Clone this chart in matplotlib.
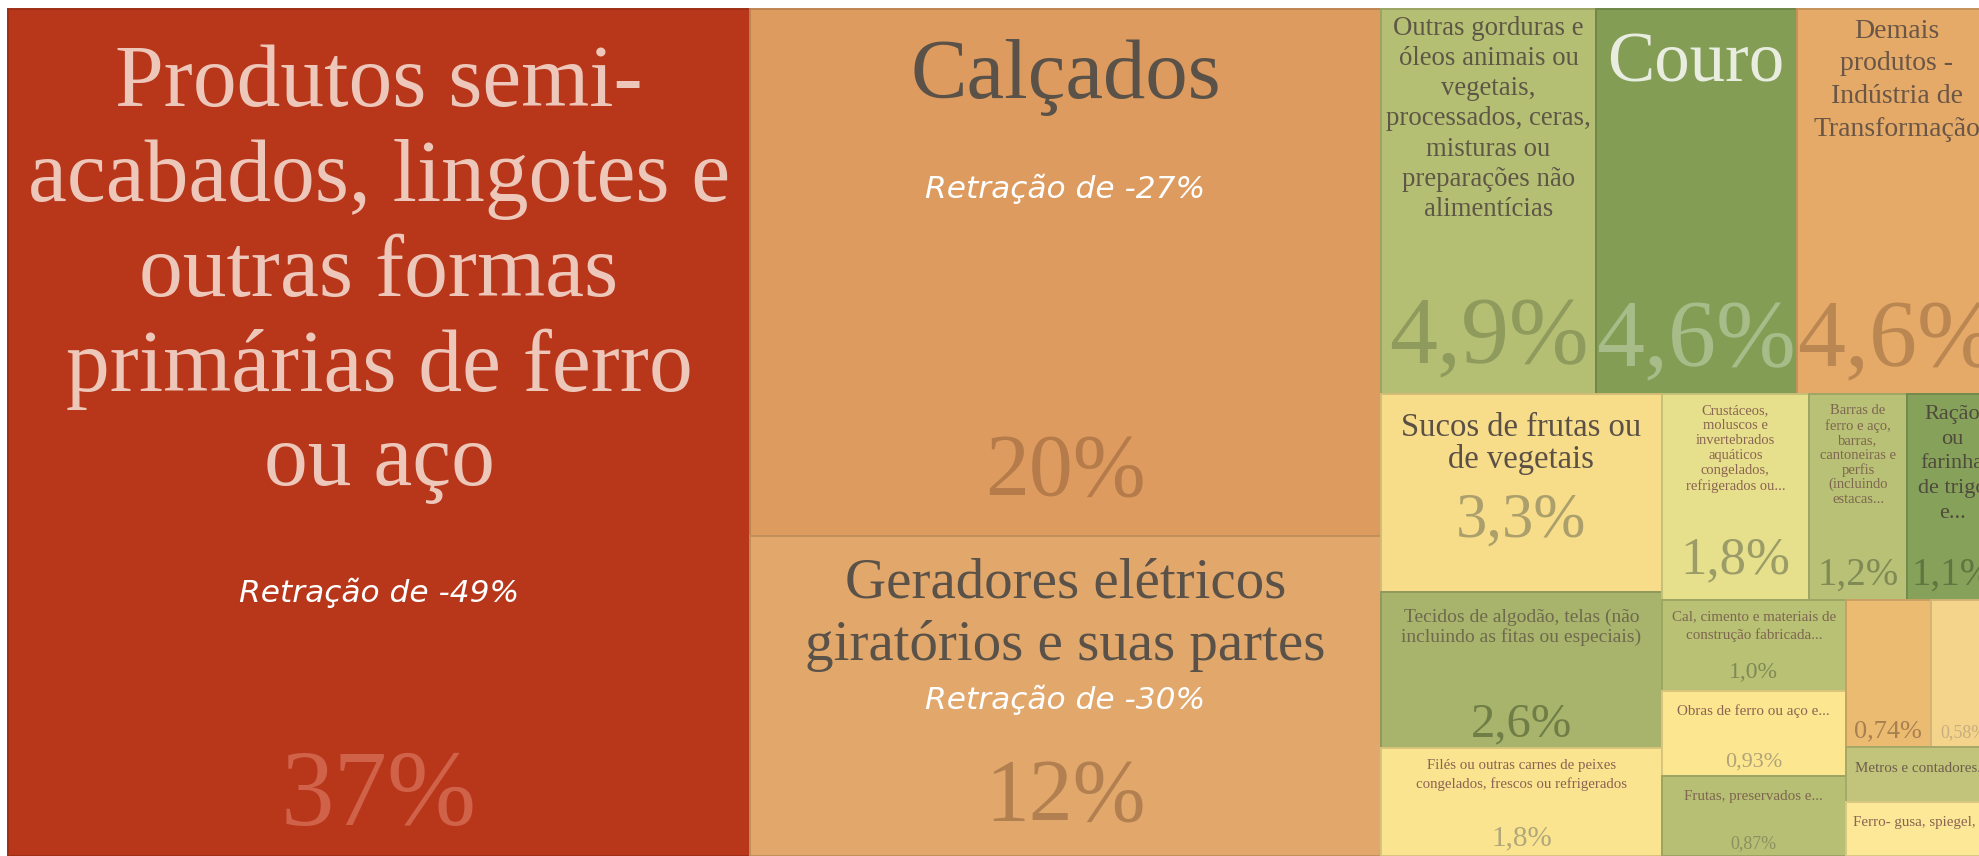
"""Treemap: participação dos produtos exportados (com retração)."""

import matplotlib
matplotlib.use("Agg")
import matplotlib.pyplot as plt
from matplotlib.patches import Rectangle
from matplotlib.colors import to_rgb

# --- data -------------------------------------------------------------------
products = [
    "Produtos semi-\nacabados, lingotes e\noutras formas\nprimárias de ferro\nou aço",
    "Calçados",
    "Geradores elétricos\ngiratórios e suas partes",
    "Outras gorduras e\nóleos animais ou\nvegetais,\nprocessados, ceras,\nmisturas ou\npreparações não\nalimentícias",
    "Couro",
    "Demais\nprodutos -\nIndústria de\nTransformação",
    "Sucos de frutas ou\nde vegetais",
    "Tecidos de algodão, telas (não\nincluindo as fitas ou especiais)",
    "Filés ou outras carnes de peixes\ncongelados, frescos ou refrigerados",
    "Crustáceos,\nmoluscos e\ninvertebrados\naquáticos\ncongelados,\nrefrigerados ou...",
    "Barras de\nferro e aço,\nbarras,\ncantoneiras e\nperfis\n(incluindo\nestacas...",
    "Ração\nou\nfarinha\nde trigo\ne...",
    "Cal, cimento e materiais de\nconstrução fabricada...",
    "Obras de ferro ou aço e...",
    "Frutas, preservados e...",
    "",
    "",
    "Metros e contadores...",
    "Ferro- gusa, spiegel, ...",
]
shares = [37.4, 19.8, 12.0, 4.93, 4.61, 4.6, 3.3, 2.6, 1.8, 1.8, 1.2, 1.1,
          1.0, 0.93, 0.87, 0.74, 0.58, 0.50, 0.48]
share_labels = ["37%", "20%", "12%", "4,9%", "4,6%", "4,6%", "3,3%", "2,6%",
                "1,8%", "1,8%", "1,2%", "1,1%", "1,0%", "0,93%", "0,87%",
                "0,74%", "0,58%", "", ""]
retracao = {0: "Retração de -49%", 1: "Retração de -27%", 2: "Retração de -30%"}

# --- style ------------------------------------------------------------------
cell_colors = ["#B8361A", "#DD9B5F", "#E2A76B", "#B5BF73", "#839D55", "#E5AA67",
               "#F7DC89", "#A8B36B", "#FBE490", "#E6E08C", "#B8C175", "#86A15A",
               "#B8C174", "#FCE690", "#B6BF73", "#EBBB72", "#F4D38A", "#C1C47A",
               "#FCE896"]
label_colors = ["#EDC7B9", "#5A5248", "#5A5248", "#5E5646", "#E8EDE0", "#6A5646",
                "#5A5046", "#6E6A4E", "#8A6452", "#8A6452", "#7E6650", "#4F4A3C",
                "#7E6650", "#8A6452", "#7E6650", "#5A5046", "#5A5046", "#6E5E4C",
                "#8A6452"]
pct_colors = ["#CF6248", "#B57B4A", "#B28050", "#8F9B5C", "#A8BC8A", "#BA8652",
              "#ABA06C", "#6F7E46", "#B0A77A", "#9C9C68", "#7F8A55", "#607640",
              "#7F8A55", "#B0A378", "#8A9160", "#A88050", "#C8AE80", "#000000",
              "#000000"]
label_pt = [63, 61, 41, 19.3, 51, 20, 23.5, 14, 10.7, 10.5, 10.5, 16,
            10.8, 10.8, 10.8, 10, 10, 10.8, 10.8]
label_first = [67, 60, 41, 17, 48, 19.5, 30, 23, 16, 15, 15, 18, 15, 18, 19,
               0, 0, 20, 19]
label_step = [94.7, 0, 63, 30.2, 0, 32.8, 32, 20, 19, 15, 14.7, 24.6, 19, 0,
              0, 0, 0, 0, 0]
pct_pt = [77, 63, 63, 69, 69, 69, 45, 35, 21, 38, 28, 28, 17, 16, 13, 19, 13,
          10, 10]
pct_frac = [0.92, 0.863, 0.79, 0.834, 0.84, 0.84, 0.61, 0.82, 0.81, 0.78,
            0.86, 0.86, 0.77, 0.81, 0.83, 0.88, 0.89, 0.9, 0.9]
retr_frac = {0: 0.69, 1: 0.342, 2: 0.512}

SERIF = "Liberation Serif"
W_PX, H_PX = 1979, 856
X0, Y0, WIDTH, HEIGHT = 8, 8.5, 1989, 847
PHI = (1 + 5 ** 0.5) / 2
DROP = 0.15  # px per pt: centre serif glyphs on their x-height, not the box


def squarify(values, x0, y0, x1, y1, ratio=PHI):
    """Squarified treemap (same row rule as d3.treemapSquarify)."""
    rects = []
    value = sum(values)
    i0 = i1 = 0
    n = len(values)
    while i0 < n:
        dx, dy = x1 - x0, y1 - y0
        sum_v = values[i1]
        i1 += 1
        min_v = max_v = sum_v
        alpha = max(dy / dx, dx / dy) / (value * ratio)
        beta = sum_v * sum_v * alpha
        min_ratio = max(max_v / beta, beta / min_v)
        while i1 < n:
            v = values[i1]
            s = sum_v + v
            mn, mx = min(min_v, v), max(max_v, v)
            beta = s * s * alpha
            r = max(mx / beta, beta / mn)
            if r > min_ratio:
                break
            sum_v, min_v, max_v, min_ratio = s, mn, mx, r
            i1 += 1
        row = values[i0:i1]
        if dx < dy:
            h = dy * sum_v / value
            x = x0
            for v in row:
                w = dx * v / sum_v
                rects.append((x, y0, w, h))
                x += w
            y0 += h
        else:
            w = dx * sum_v / value
            y = y0
            for v in row:
                h = dy * v / sum_v
                rects.append((x0, y, w, h))
                y += h
            x0 += w
        value -= sum_v
        i0 = i1
    return rects


def darker(c, f=0.86):
    r, g, b = to_rgb(c)
    return (r * f, g * f, b * f)


def main():
    fig = plt.figure(figsize=(W_PX / 100, H_PX / 100), dpi=100)
    ax = fig.add_axes([0, 0, 1, 1])
    ax.set_xlim(0, W_PX)
    ax.set_ylim(H_PX, 0)
    ax.axis("off")

    rects = squarify(shares, X0, Y0, X0 + WIDTH, Y0 + HEIGHT)
    for i, (x, y, w, h) in enumerate(rects):
        ax.add_patch(Rectangle((x, y), w, h, facecolor=cell_colors[i],
                               edgecolor=darker(cell_colors[i]), lw=1.4))
        cx = x + w / 2
        for j, line in enumerate(products[i].split("\n")):
            if not line:
                continue
            ax.text(cx, y + label_first[i] + j * label_step[i] + DROP * label_pt[i],
                    line, ha="center", va="center", fontsize=label_pt[i],
                    family=SERIF, color=label_colors[i], clip_on=True)
        if share_labels[i]:
            ax.text(cx, y + pct_frac[i] * h + DROP * pct_pt[i], share_labels[i],
                    ha="center", va="center", fontsize=pct_pt[i], family=SERIF,
                    color=pct_colors[i], clip_on=True)
        if i in retracao:
            ax.text(cx, y + retr_frac[i] * h, retracao[i], ha="center",
                    va="center", fontsize=22.5, family="DejaVu Sans",
                    style="italic", color="white", clip_on=True)

    fig.savefig("out.png", dpi=100)
    plt.close(fig)


if __name__ == "__main__":
    main()
